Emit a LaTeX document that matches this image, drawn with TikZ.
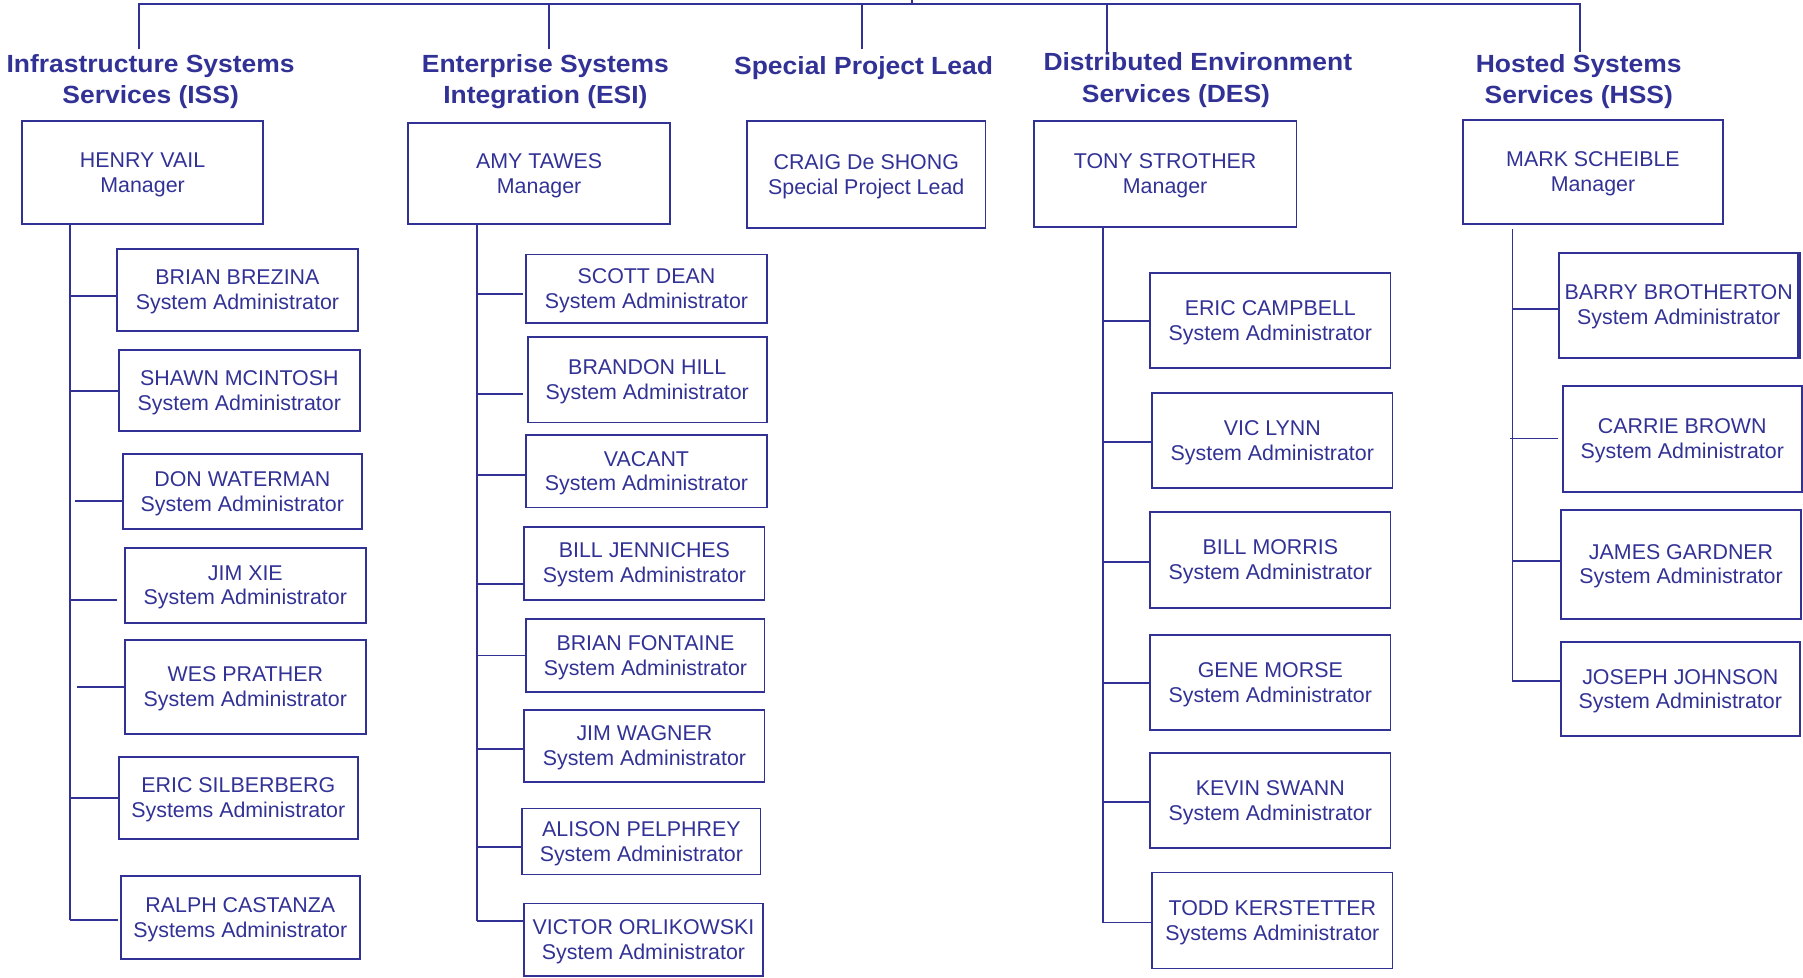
\documentclass[tikz,border=0pt]{standalone}
\usepackage{fontspec}
\setmainfont{Liberation Sans}
\newfontfamily\hdfont[FakeStretch=1.065]{Liberation Sans}
\definecolor{org}{RGB}{50,50,150}
\tikzset{
  ln/.style={draw=org, line width=0.8pt},
  bx/.style={draw=org, line width=0.8pt, text=org, align=center, inner sep=0pt,
             font=\fontsize{9.3}{10.85}\selectfont},
  hd/.style={text=org, align=center, inner sep=0pt, anchor=north,
             font=\hdfont\bfseries\fontsize{10.8}{13.8}\selectfont},
}
\newcommand\obox[6]{\node[bx, minimum width={(#4-#2)*0.5pt}, minimum height={(#5-#3)*0.5pt}] (#1) at ({(#2+#4)/2},{(#3+#5)/2}) {\rule{0pt}{8.2pt}#6};}
\newcommand\brn[5]{\draw[ln, shorten <=#4pt, shorten >=#5pt] (#1 |- 0,#3) -- (#2.west |- 0,#3);}
\begin{document}
\begin{tikzpicture}[x=0.5pt,y=-0.5pt]
\useasboundingbox (0,0) rectangle (1568,849.7);

% headings
\node[hd] (hiss) at (131,43) {\strut Infrastructure Systems\\Services (ISS)};
\node[hd] (hesi) at (474.3,43) {\strut Enterprise Systems\\Integration (ESI)};
\node[hd] (hspl) at (751,45) {\strut Special Project Lead};
\node[hd] (hdes) at (1041.7,41.6) {\strut Distributed Environment\\Services (DES)\kern19pt};
\node[hd] (hhss) at (1373,43) {\strut Hosted Systems\\Services (HSS)};

% top bus
\coordinate (dIss) at (121,42.9);
\coordinate (dEsi) at (477.3,42.9);
\coordinate (dSpl) at (750,42.9);
\coordinate (dDes) at (962.7,45);
\coordinate (dHss) at (1374,45);
\coordinate (stub) at (793.4,0);
\draw[ln] (dIss) |- (dHss |- 0,3.5) -- (dHss);
\draw[ln] (dEsi) -- (dEsi |- 0,3.5);
\draw[ln] (dSpl) -- (dSpl |- 0,3.5);
\draw[ln] (dDes) -- (dDes |- 0,3.5);
\draw[ln] (stub) -- (stub |- 0,3.5);

% ISS
\obox{henry}{19.3}{105.2}{228.7}{195.1}{HENRY VAIL\\Manager}
\obox{brian}{102}{216.5}{311}{287.8}{BRIAN BREZINA\\System Administrator}
\obox{shawn}{103.5}{304.6}{312.8}{374.8}{SHAWN MCINTOSH\\System Administrator}
\obox{don}{107}{394.8}{314.5}{460}{DON WATERMAN\\System Administrator}
\obox{jimxie}{108.7}{476.5}{318}{541.5}{JIM XIE\\System Administrator}
\obox{wes}{108.7}{556.9}{318}{638.3}{WES PRATHER\\System Administrator}
\obox{erics}{103.5}{658.3}{311}{730}{ERIC SILBERBERG\\Systems Administrator}
\obox{ralph}{105.2}{761.8}{312.8}{833.7}{RALPH CASTANZA\\Systems Administrator}
\coordinate (tiss) at (60.7,0);
\draw[ln] (tiss |- henry.south) -- (tiss |- 0,800.3);
\brn{tiss}{brian}{257.7}{0}{0}
\brn{tiss}{shawn}{339.7}{0}{0}
\brn{tiss}{don}{435.7}{2.2}{0}
\brn{tiss}{jimxie}{521.8}{0}{2.9}
\brn{tiss}{wes}{597.7}{3}{0}
\brn{tiss}{erics}{693.7}{0}{0}
\brn{tiss}{ralph}{800.3}{0}{1.1}

% ESI
\obox{amy}{354.7}{107}{583}{195.1}{AMY TAWES\\Manager}
\obox{scott}{457.7}{221.4}{666.7}{280.9}{SCOTT DEAN\\System Administrator}
\obox{brandon}{459.1}{293}{666.7}{367.5}{BRANDON HILL\\System Administrator}
\obox{vacant}{457.7}{378.3}{666.7}{441.4}{VACANT\\System Administrator}
\obox{billj}{456}{458}{664.9}{521.6}{BILL JENNICHES\\System Administrator}
\obox{brianf}{457.7}{538.4}{664.9}{601.7}{BRIAN FONTAINE\\System Administrator}
\obox{jimw}{456}{617.6}{664.9}{680.2}{JIM WAGNER\\System Administrator}
\obox{alison}{454.2}{703.1}{661.4}{760.5}{ALISON PELPHREY\\System Administrator}
\obox{victor}{456}{785.8}{663.2}{848.6}{VICTOR ORLIKOWSKI\\System Administrator}
\coordinate (tesi) at (414.5,0);
\draw[ln] (tesi |- amy.south) -- (tesi |- 0,801.1);
\brn{tesi}{scott}{256}{0}{1}
\brn{tesi}{brandon}{342.6}{0}{1.75}
\brn{tesi}{vacant}{413}{0}{0}
\brn{tesi}{billj}{508}{0}{0}
\brn{tesi}{brianf}{570}{0}{0}
\brn{tesi}{jimw}{651.3}{0}{0}
\brn{tesi}{alison}{736.8}{0}{0}
\brn{tesi}{victor}{801.1}{0}{0}

% Special project
\obox{craig}{649.7}{105.2}{857}{198}{CRAIG De SHONG\\Special Project Lead}

% DES
\obox{tony}{899}{105.2}{1127.5}{197.4}{TONY STROTHER\\Manager}
\obox{ericc}{1000.3}{237.1}{1209.2}{320.3}{ERIC CAMPBELL\\System Administrator}
\obox{vic}{1002}{341.7}{1211}{424.6}{VIC LYNN\\System Administrator}
\obox{billm}{1000.3}{445.2}{1209.2}{529}{BILL MORRIS\\System Administrator}
\obox{gene}{1000.3}{551.9}{1209.2}{635}{GENE MORSE\\System Administrator}
\obox{kevin}{1000.3}{654.5}{1209.2}{737.7}{KEVIN SWANN\\System Administrator}
\obox{todd}{1002}{758.8}{1211}{842.3}{TODD KERSTETTER\\Systems Administrator}
\coordinate (tdes) at (959,0);
\draw[ln] (tdes |- tony.south) -- (tdes |- 0,802.3);
\brn{tdes}{ericc}{279.1}{0}{0}
\brn{tdes}{vic}{384.3}{0}{0}
\brn{tdes}{billm}{489}{0}{0}
\brn{tdes}{gene}{593.9}{0}{0}
\brn{tdes}{kevin}{697.6}{0}{0}
\brn{tdes}{todd}{802.3}{0}{0}

% HSS
\obox{mark}{1272.2}{104.3}{1498.5}{195}{MARK SCHEIBLE\\Manager}
\obox{barry}{1356}{219.7}{1563.8}{311}{BARRY BROTHERTON\\System Administrator}
\obox{carrie}{1359.2}{335.4}{1566.8}{428.1}{CARRIE BROWN\\System Administrator}
\obox{james}{1357.4}{443.2}{1566.5}{538.3}{JAMES GARDNER\\System Administrator}
\obox{joseph}{1357.4}{558.6}{1565.2}{640.3}{JOSEPH JOHNSON\\System Administrator}
\draw[ln] ([xshift=0.55pt]barry.north east) -- ([xshift=0.55pt]barry.south east);
\coordinate (thss) at (1315.3,0);
\draw[ln] (thss |- 0,199) -- (thss |- 0,592.5);
\brn{thss}{barry}{268.7}{0}{0}
\brn{thss}{carrie}{381.4}{-1.15}{1.6}
\brn{thss}{james}{488.1}{0}{0}
\brn{thss}{joseph}{592.5}{-0.3}{0}
\end{tikzpicture}
\end{document}
